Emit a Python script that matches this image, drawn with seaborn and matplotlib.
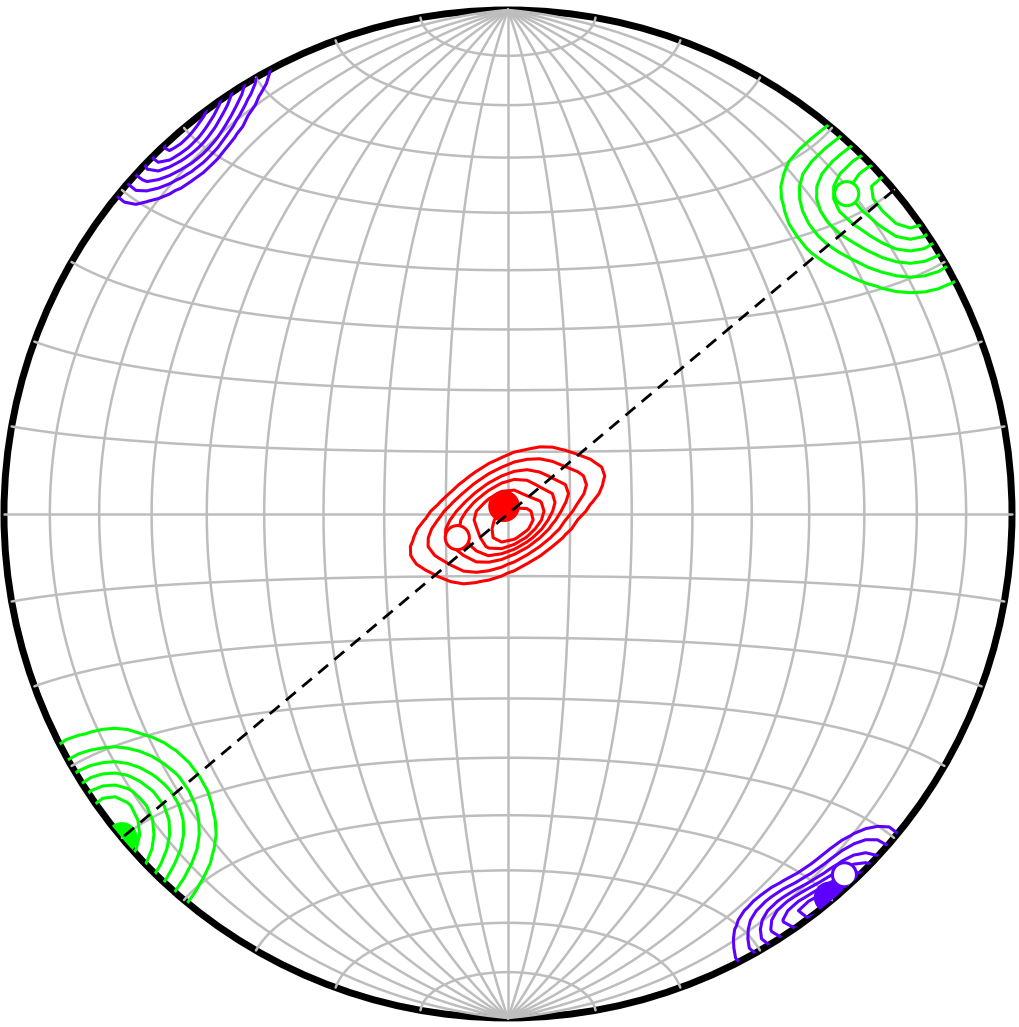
import numpy as np
import matplotlib
matplotlib.use("Agg")
import matplotlib.pyplot as plt
import seaborn as sns

sns.set_style("white")

# bootstrapped axes, trend / plunge in degrees
red_trend = [247.4, 214.5, 269.8, 186.8, 230, 305.1, 140, 128.7, 351, 76.6, 32.6, 67.4]
red_plunge = [79.9, 82.5, 83.8, 85.6, 88.4, 86.9, 87, 85.9, 85.3, 85.5, 83.3, 79.9]

green_trend = [44.6, 54.5, 47.3, 57.2, 50, 225.5, 232.7, 235.4, 226.4, 230.9, 49.1, 53.6]
green_plunge = [10, 8.3, 4.6, 1.8, 0, 0.9, 3.7, 7.4, 9.2, 12, 12.9, 0.9]

purple_trend = [134.5, 144.6, 137.2, 147.4, 320, 315.4, 322.8, 145.5, 316.3, 140.9, 319.1, 143.7]
purple_plunge = [4, 3, 1, 0, 1, 3, 4, 6, 1, 3, 6, 1]

# mean axes (filled) and reference axes (open)
filled_trend = [333, 230, 140]
filled_plunge = [88.6, 0, 0.8]
open_trend = [245, 46.6, 137]
open_plunge = [81, 8.3, 2.4]
colors = ["#ff0000", "#00ff00", "#5c00ff"]

plane_strike = 50
plane_dip = 90

levels = [0.05, 0.15, 0.3, 0.47, 0.65, 0.85]


def line_vec(trend, plunge):
    t = np.radians(np.asarray(trend, float))
    p = np.radians(np.asarray(plunge, float))
    return np.column_stack([np.cos(p) * np.sin(t), np.cos(p) * np.cos(t), np.sin(p)])


def project(v):
    # lambert equal area, unit primitive; down < 0 goes past the primitive
    th = np.arccos(np.clip(v[:, 2], -1, 1))
    r = np.sqrt(2) * np.sin(th / 2)
    h = np.hypot(v[:, 0], v[:, 1])
    h = np.where(h < 1e-12, 1, h)
    return r * v[:, 0] / h, r * v[:, 1] / h


def side_cloud(trend, plunge, side_trend):
    v = line_vec(trend, plunge)
    d = line_vec([side_trend], [0])[0]
    v[v @ d < 0] *= -1
    return project(v)


def net_xy(lon, lat):
    lon = np.radians(lon)
    lat = np.radians(lat)
    k = 1 / np.sqrt(1 + np.cos(lat) * np.cos(lon))
    return k * np.cos(lat) * np.sin(lon), k * np.sin(lat)


def plane_xy(strike, dip):
    s = np.radians(strike)
    d = np.radians(dip)
    rake = np.radians(np.linspace(0, 180, 181))
    sv = np.array([np.sin(s), np.cos(s), 0])
    dv = np.array([np.cos(d) * np.sin(s + np.pi / 2), np.cos(d) * np.cos(s + np.pi / 2), np.sin(d)])
    v = np.outer(np.cos(rake), sv) + np.outer(np.sin(rake), dv)
    return project(v)


fig = plt.figure(figsize=(10.2, 10.27), dpi=100)
ax = fig.add_axes([0, 0, 1, 1])
clip = plt.Circle((0, 0), 1, transform=ax.transData)

ax.add_patch(plt.Circle((0, 0), 1, fill=False, lw=5, ec="black", zorder=1))

# schmidt net
t = np.linspace(-90, 90, 361)
for lon in range(-80, 90, 10):
    gx, gy = net_xy(lon, t)
    ax.plot(gx, gy, color="#bdbdbd", lw=1.8, zorder=2)
for lat in range(-80, 90, 10):
    gx, gy = net_xy(t, lat)
    ax.plot(gx, gy, color="#bdbdbd", lw=1.8, zorder=2)


def density(x, y, color):
    n0 = len(ax.collections)
    sns.kdeplot(x=x, y=y, levels=levels, color=color, linewidths=2.2,
                gridsize=22, bw_adjust=1.2, ax=ax, zorder=3)
    for c in ax.collections[n0:]:
        c.set_clip_path(clip)


rx, ry = project(line_vec(red_trend, red_plunge))
density(rx, ry, colors[0])
for side in [50, 230]:
    gx, gy = side_cloud(green_trend, green_plunge, side)
    density(gx, gy, colors[1])
for side in [140, 320]:
    px, py = side_cloud(purple_trend, purple_plunge, side)
    density(px, py, colors[2])

fx, fy = project(line_vec(filled_trend, filled_plunge))
n0 = len(ax.collections)
sns.scatterplot(x=fx, y=fy, hue=["a", "b", "c"], palette=colors, s=520,
                linewidth=0, legend=False, ax=ax, zorder=4)
ox, oy = project(line_vec(open_trend, open_plunge))
sns.scatterplot(x=ox, y=oy, color="white", edgecolor=colors, s=300,
                linewidth=2.2, legend=False, ax=ax, zorder=5)
for c in ax.collections[n0:]:
    c.set_clip_path(clip)

lx, ly = plane_xy(plane_strike, plane_dip)
ax.plot(lx, ly, color="black", lw=2, dashes=(4.6, 3.0), zorder=6)

ax.set_xlim(-1.0079, 1.0159)
ax.set_ylim(-1.0179, 1.0198)
ax.axis("off")
fig.savefig("out.png", dpi=100)
